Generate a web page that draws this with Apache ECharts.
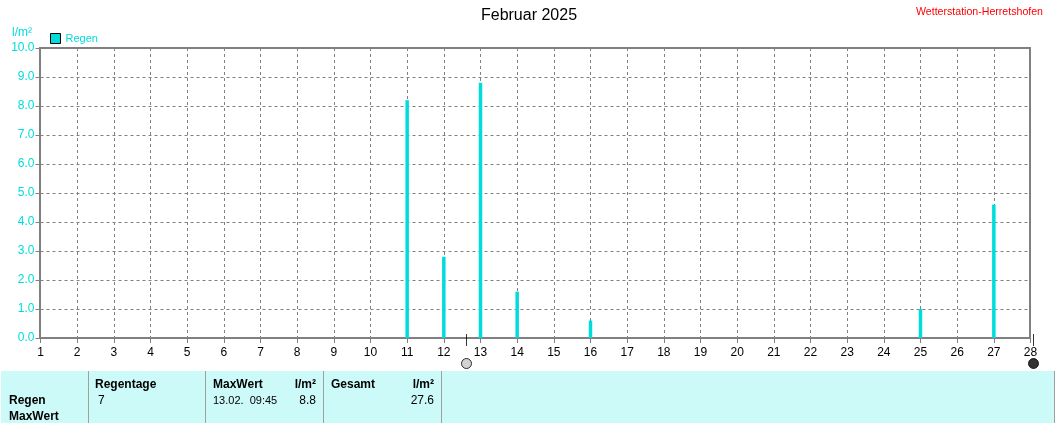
<!DOCTYPE html>
<html><head><meta charset="utf-8">
<style>html,body{margin:0;padding:0;background:#fff}#c{width:1055px;height:423px}</style>
<script src="https://cdn.jsdelivr.net/npm/echarts@6/dist/echarts.min.js"></script>
</head><body><div id="c"></div>
<script>
const days = [11, 12, 13, 14, 16, 25, 27];
const rain = [8.2, 2.8, 8.8, 1.6, 0.6, 1.0, 4.6];
const xTicks = {min: 1, max: 28, interval: 1};
const yTicks = {min: 0, max: 10, interval: 1};
const moonDays = [12.618, 28.082];
const title = 'Februar 2025';
const station = 'Wetterstation-Herretshofen';
const unit = 'l/m²';
const headers = ['Regentage', 'MaxWert', 'Gesamt'];
const rowNames = ['Regen', 'MaxWert'];
const rainDays = '7', maxWhen = '13.02.  09:45', maxVal = '8.8', total = '27.6';

const CY = '#00dcdc', G = '#808080', F = '"Liberation Sans", Arial, sans-serif';
const chart = echarts.init(document.getElementById('c'), null, {renderer: 'canvas'});
const t = (x, y, text, o = {}) => ({type: 'text', x, y, z: 20, silent: true, style: Object.assign({
  text, fill: '#000', font: `${o.bold ? 'bold ' : ''}${o.size || 12}px ${F}`, textAlign: o.align || 'left', textVerticalAlign: 'middle'}, o.style || {})});
const sep = x => ({type: 'rect', z: 15, shape: {x, y: 371, width: 1, height: 52}, style: {fill: '#a0a0a0'}});
chart.setOption({
  animation: false,
  backgroundColor: '#fff',
  textStyle: {fontFamily: F},
  grid: {left: 40.5, width: 990, top: 48, height: 290, show: false},
  legend: {data: ['Regen'], left: 50, top: 33, itemWidth: 10, itemHeight: 10, itemGap: 3, padding: 0,
    icon: 'rect', textStyle: {color: CY, fontSize: 11, fontFamily: F, padding: [1, 0, 0, 0]},
    itemStyle: {borderColor: '#000', borderWidth: 1}},
  xAxis: {type: 'value', min: xTicks.min, max: xTicks.max, interval: xTicks.interval,
    axisLine: {show: false},
    axisTick: {show: true, length: 5, lineStyle: {color: G, width: 1}},
    axisLabel: {color: '#000', fontSize: 12, margin: 9, fontFamily: F, showMinLabel: true, showMaxLabel: true, hideOverlap: false},
    splitLine: {show: true, lineStyle: {color: G, type: [3, 3], width: 1}}},
  yAxis: {type: 'value', min: yTicks.min, max: yTicks.max, interval: yTicks.interval,
    axisLine: {show: false},
    axisTick: {show: true, length: 5, lineStyle: {color: G, width: 1}},
    axisLabel: {color: CY, fontSize: 12, margin: 6, fontFamily: F, padding: [3, 0, 0, 0], formatter: v => v.toFixed(1)},
    splitLine: {show: true, lineStyle: {color: G, type: [3, 3], width: 1}}},
  series: [
    {name: 'Regen', type: 'bar', barWidth: 3.5, z: 6, itemStyle: {color: CY},
     data: days.map((d, i) => [d, rain[i]])},
    {name: 'mondstrich', type: 'scatter', clip: false, symbol: 'rect', symbolSize: [1, 12], z: 8, silent: true,
     itemStyle: {color: '#000'}, data: moonDays.map(d => [d, -0.07])},
    {name: 'mond', type: 'scatter', clip: false, symbol: 'circle', symbolSize: 10, z: 8, silent: true,
     data: moonDays.map((d, i) => ({value: [d, -0.88], itemStyle: i === 0
       ? {color: '#c8c8c8', borderColor: '#000', borderWidth: 1}
       : {color: '#000', borderColor: '#000', borderWidth: 1}}))}
  ],
  graphic: [
    {type: 'rect', z: 4, silent: true, shape: {x: 40, y: 48, width: 990, height: 290}, style: {fill: 'none', stroke: G, lineWidth: 2}},
    {type: 'rect', z: 10, shape: {x: 1, y: 371, width: 1054, height: 52}, style: {fill: '#ccfaf8'}},
    sep(88), sep(205), sep(323), sep(441), sep(1054),
    t(529, 16, title, {align: 'center', size: 16}),
    t(1043, 12, station, {align: 'right', size: 10.6, style: {fill: '#ff0000'}}),
    t(12, 33, unit, {style: {fill: CY}}),
    t(95, 385, headers[0], {bold: true}),
    t(213, 385, headers[1], {bold: true}),
    t(316, 385, unit, {bold: true, align: 'right'}),
    t(331, 385, headers[2], {bold: true}),
    t(434, 385, unit, {bold: true, align: 'right'}),
    t(9, 401, rowNames[0], {bold: true}),
    t(9, 417, rowNames[1], {bold: true}),
    t(98, 401, rainDays),
    t(213, 401, maxWhen, {size: 11}),
    t(316, 401, maxVal, {align: 'right'}),
    t(434, 401, total, {align: 'right'})
  ]
});
</script></body></html>
